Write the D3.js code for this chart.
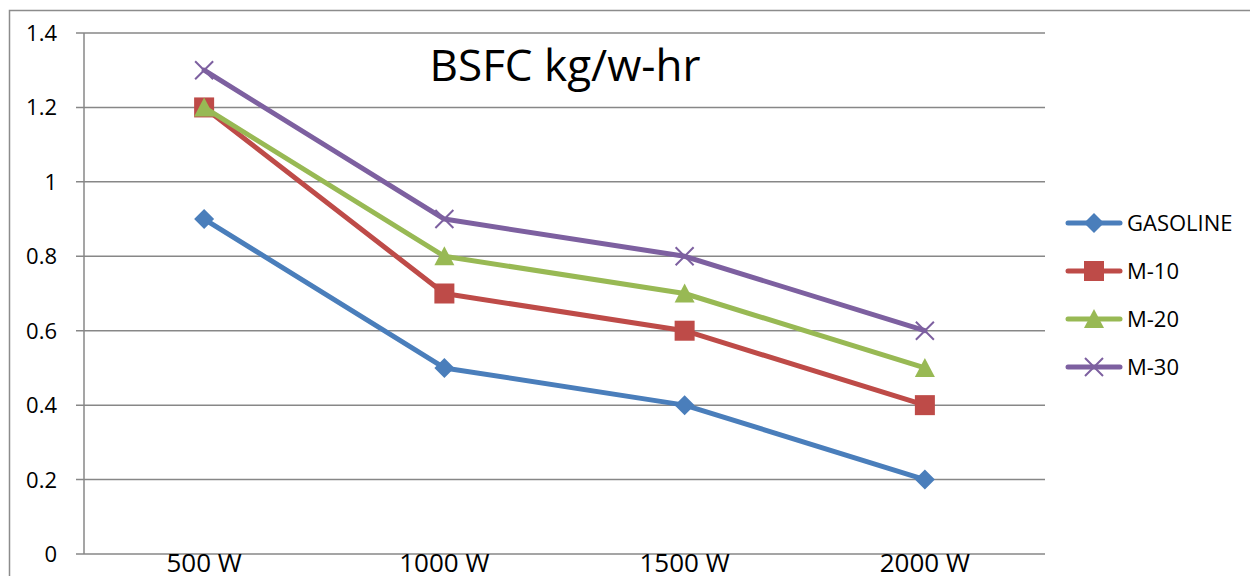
<!DOCTYPE html>
<html><head><meta charset="utf-8">
<script src="https://cdn.jsdelivr.net/npm/d3@7"></script>
<style>body{margin:0;background:#fff}svg{display:block;font-family:"Open Sans",sans-serif}</style>
</head><body>
<svg id="c" width="1250" height="576"></svg>
<script>
const categories = ["500 W","1000 W","1500 W","2000 W"];
const seriesNames = ["GASOLINE","M-10","M-20","M-30"];
const gasoline = [0.9,0.5,0.4,0.2];
const m10 = [1.2,0.7,0.6,0.4];
const m20 = [1.2,0.8,0.7,0.5];
const m30 = [1.3,0.9,0.8,0.6];
const yTicks = [0,0.2,0.4,0.6,0.8,1,1.2,1.4];
const title = "BSFC kg/w-hr";

const colors = ["#4a7ebb","#be4b48","#98b954","#7d60a0"];
const markers = ["diamond","square","triangle","x"];
const values = [gasoline,m10,m20,m30];

const svg = d3.select("#c");
// outer border
svg.append("rect").attr("x",9.5).attr("y",10.5).attr("width",1300).attr("height",700)
  .attr("fill","none").attr("stroke","#8c8c8c").attr("stroke-width",1.5);

const L=84,R=1045,T=33,B=554;
const x = d3.scaleBand().domain(categories).range([L,R]);
const y = d3.scaleLinear().domain([0,1.4]).range([B,T]);

// gridlines
svg.append("g").selectAll("line").data(yTicks).join("line")
  .attr("x1",L-8).attr("x2",R).attr("y1",d=>y(d)).attr("y2",d=>y(d))
  .attr("stroke","#878787").attr("stroke-width",1.5);
// y axis line
svg.append("line").attr("x1",L).attr("x2",L).attr("y1",T).attr("y2",B)
  .attr("stroke","#878787").attr("stroke-width",1.5);
// y labels
svg.append("g").selectAll("text").data(yTicks).join("text")
  .attr("x",L-27).attr("y",d=>y(d)+8).attr("text-anchor","end")
  .attr("font-size",22).attr("fill","#000").text(d=>d3.format("~g")(d));
// x labels
svg.append("g").selectAll("text").data(categories).join("text")
  .attr("x",d=>x(d)+x.bandwidth()/2).attr("y",572).attr("text-anchor","middle")
  .attr("font-size",26).attr("fill","#000").text(d=>d);

function drawMarker(g, type, color, cx, cy){
  if(type==="diamond"){
    g.append("path").attr("d",`M${cx},${cy-10}L${cx+10},${cy}L${cx},${cy+10}L${cx-10},${cy}Z`).attr("fill",color);
  } else if(type==="square"){
    g.append("rect").attr("x",cx-10).attr("y",cy-10).attr("width",20).attr("height",20).attr("fill",color);
  } else if(type==="triangle"){
    g.append("path").attr("d",`M${cx},${cy-10}L${cx+10},${cy+9}L${cx-10},${cy+9}Z`).attr("fill",color);
  } else {
    g.append("path").attr("d",`M${cx-9},${cy-9}L${cx+9},${cy+9}M${cx-9},${cy+9}L${cx+9},${cy-9}`)
      .attr("stroke",color).attr("stroke-width",2).attr("fill","none");
  }
}

const line = d3.line().x((d,i)=>x(categories[i])+x.bandwidth()/2).y(d=>y(d));
values.forEach((vals,si)=>{
  const g = svg.append("g");
  g.append("path").attr("d",line(vals)).attr("fill","none").attr("stroke",colors[si])
    .attr("stroke-width",5).attr("stroke-linejoin","round").attr("stroke-linecap","round");
  vals.forEach((v,i)=>drawMarker(g,markers[si],colors[si],x(categories[i])+x.bandwidth()/2,y(v)));
});

// title
svg.append("text").attr("x",565).attr("y",81).attr("text-anchor","middle")
  .attr("font-size",44).attr("fill","#000").text(title);

// legend
const ly = d3.scaleBand().domain(seriesNames).range([199,391]);
seriesNames.forEach((n,i)=>{
  const cy = ly(n)+ly.bandwidth()/2;
  const g = svg.append("g");
  g.append("line").attr("x1",1068).attr("x2",1120).attr("y1",cy).attr("y2",cy)
    .attr("stroke",colors[i]).attr("stroke-width",5).attr("stroke-linecap","round");
  drawMarker(g,markers[i],colors[i],1094,cy);
  g.append("text").attr("x",1127).attr("y",cy+8).attr("font-size",22).attr("fill","#000").text(n);
});
</script>
</body></html>
